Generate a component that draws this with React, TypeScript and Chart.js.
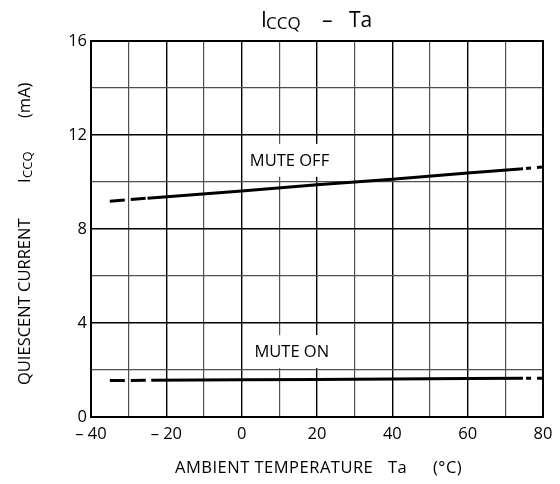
import React, { useEffect, useRef } from 'react';
import { Chart, registerables } from 'chart.js';

Chart.register(...registerables);

// ---- data ----
const TEMPS_OFF = [-35, -25, 0, 20, 40, 60, 74.7, 80];
const ICCQ_OFF = [9.18, 9.31, 9.62, 9.88, 10.12, 10.38, 10.56, 10.64];
const TEMPS_ON = [-35, -24, 0, 20, 40, 60, 74.7, 80];
const ICCQ_ON = [1.55, 1.56, 1.58, 1.6, 1.62, 1.64, 1.65, 1.65];
const SERIES_NAMES = ['MUTE OFF', 'MUTE ON'];
const SERIES_LABEL_AT_X = [12.7, 13.3];
const SERIES_LABEL_AT_Y = [10.9, 2.76];
const X_TICKS = [-40, -20, 0, 20, 40, 60, 80];
const X_TICK_LABELS = ['– 40', '– 20', '0', '20', '40', '60', '80'];
const Y_TICKS = [0, 4, 8, 12, 16];
const Y_TICK_LABELS = ['0', '4', '8', '12', '16'];
const SOLID_FROM = -24.5;
const SOLID_TO = 74.7;

const FONT = '"Open Sans", sans-serif';

const overlay = {
  id: 'overlay',
  afterDatasetsDraw(chart: any) {
    const { ctx, scales, chartArea: a } = chart;
    const x = scales.x;
    const y = scales.y;
    ctx.save();
    // series labels with white boxes
    ctx.font = `16.5px ${FONT}`;
    ctx.textAlign = 'center';
    ctx.textBaseline = 'middle';
    SERIES_NAMES.forEach((name, i) => {
      const px = x.getPixelForValue(SERIES_LABEL_AT_X[i]);
      const py = y.getPixelForValue(SERIES_LABEL_AT_Y[i]);
      const w = ctx.measureText(name).width;
      ctx.fillStyle = '#fff';
      ctx.fillRect(px - w / 2 - 4, py - 17, w + 8, 33);
      ctx.fillStyle = '#000';
      ctx.fillText(name, px, py);
    });
    // frame
    ctx.lineWidth = 2;
    ctx.strokeStyle = '#000';
    ctx.strokeRect(a.left, a.top, a.right - a.left, a.bottom - a.top);
    ctx.restore();
  },
  afterDraw(chart: any) {
    const { ctx } = chart;
    ctx.save();
    ctx.fillStyle = '#000';
    ctx.textAlign = 'left';
    ctx.textBaseline = 'alphabetic';
    // top title: I_CCQ – Ta
    ctx.font = `21px ${FONT}`;
    ctx.fillText('I', 261, 27);
    ctx.font = `17px ${FONT}`;
    ctx.fillText('CCQ', 266, 29);
    ctx.font = `21px ${FONT}`;
    ctx.fillText('–', 322, 27);
    ctx.fillText('Ta', 349, 27);

    // x axis title
    (ctx as any).letterSpacing = '0.5px';
    ctx.font = `16.5px ${FONT}`;
    ctx.fillText('AMBIENT TEMPERATURE', 175, 473);
    ctx.fillText('Ta', 388, 473);
    ctx.fillText('(°C)', 433, 473);

    // y axis title (rotated)
    (ctx as any).letterSpacing = '0px';
    ctx.translate(30, 385);
    ctx.rotate(-Math.PI / 2);
    ctx.font = `16.5px ${FONT}`;
    ctx.fillText('QUIESCENT CURRENT', 0, 0);
    ctx.fillText('I', 202, 0);
    const iw = ctx.measureText('I').width;
    ctx.font = `13px ${FONT}`;
    ctx.fillText('CCQ', 202 + iw + 0.5, 2);
    ctx.font = `16.5px ${FONT}`;
    ctx.fillText('(mA)', 267, 0);
    ctx.restore();
  },
};

function makeSeries(temps: number[], vals: number[]) {
  return temps.map((t, i) => ({ x: t, y: vals[i] }));
}

const segmentStyle = {
  borderDash: (ctx: any) => {
    const x0 = ctx.p0.parsed.x;
    const x1 = ctx.p1.parsed.x;
    if (x1 <= SOLID_FROM + 0.6) return [15, 6];
    if (x0 >= SOLID_TO - 0.01) return [5, 6];
    return undefined;
  },
  borderDashOffset: (ctx: any) => (ctx.p0.parsed.x >= SOLID_TO - 0.01 ? 8 : 0),
};

export default function App() {
  const ref = useRef<HTMLCanvasElement>(null);
  useEffect(() => {
    if (!ref.current) return;
    const chart = new Chart(ref.current, {
      type: 'line',
      data: {
        datasets: [
          {
            label: SERIES_NAMES[0],
            data: makeSeries(TEMPS_OFF, ICCQ_OFF),
            borderColor: '#000',
            borderWidth: 3,
            pointRadius: 0,
            tension: 0,
            fill: false,
            borderCapStyle: 'butt',
            segment: segmentStyle,
          },
          {
            label: SERIES_NAMES[1],
            data: makeSeries(TEMPS_ON, ICCQ_ON),
            borderColor: '#000',
            borderWidth: 3,
            pointRadius: 0,
            tension: 0,
            fill: false,
            borderCapStyle: 'butt',
            segment: segmentStyle,
          },
        ],
      } as any,
      options: {
        animation: false,
        responsive: false,
        devicePixelRatio: 1,
        layout: { padding: { top: 41, right: 17, left: 0, bottom: 0 } },
        plugins: { legend: { display: false }, tooltip: { enabled: false }, title: { display: false } },
        scales: {
          x: {
            type: 'linear',
            min: -40,
            max: 80,
            afterFit: (s: any) => {
              s.height = 67;
            },
            ticks: {
              stepSize: 10,
              autoSkip: false,
              maxRotation: 0,
              padding: 7,
              color: '#000',
              font: { family: FONT, size: 16.5 },
              callback: (v: any) => {
                const i = X_TICKS.indexOf(Number(v));
                return i >= 0 ? X_TICK_LABELS[i] : '';
              },
            },
            grid: {
              drawTicks: false,
              lineWidth: (c: any) => (c.tick && X_TICKS.includes(c.tick.value) ? 1.4 : 1.2),
              color: (c: any) => (c.tick && X_TICKS.includes(c.tick.value) ? '#000' : '#505050'),
            },
            border: { display: true, color: '#000', width: 2 },
          },
          y: {
            type: 'linear',
            min: 0,
            max: 16,
            afterFit: (s: any) => {
              s.width = 91;
            },
            ticks: {
              stepSize: 2,
              autoSkip: false,
              padding: 4,
              color: '#000',
              font: { family: FONT, size: 16.5 },
              callback: (v: any) => {
                const i = Y_TICKS.indexOf(Number(v));
                return i >= 0 ? Y_TICK_LABELS[i] : '';
              },
            },
            grid: {
              drawTicks: false,
              lineWidth: (c: any) => (c.tick && Y_TICKS.includes(c.tick.value) ? 1.4 : 1.2),
              color: (c: any) => (c.tick && Y_TICKS.includes(c.tick.value) ? '#000' : '#505050'),
            },
            border: { display: true, color: '#000', width: 2 },
          },
        },
      } as any,
      plugins: [overlay],
    });
    return () => chart.destroy();
  }, []);
  return (
    <div style={{ position: 'fixed', left: 0, top: 0, width: 560, height: 484, background: '#fff' }}>
      <canvas ref={ref} width={560} height={484} style={{ width: 560, height: 484, display: 'block' }} />
    </div>
  );
}
